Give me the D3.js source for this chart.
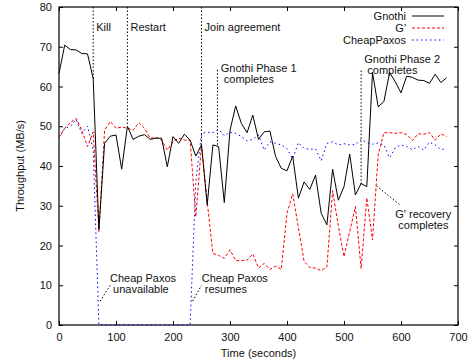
<!DOCTYPE html>
<html>
<head>
<meta charset="utf-8">
<script src="https://cdn.jsdelivr.net/npm/d3@7"></script>
<style>
  body { margin: 0; background: #fff; }
  svg { display: block; font-family: "Liberation Sans", Arial, sans-serif; font-size: 11px; }
  .lbl { white-space: pre; fill: #111; }
</style>
</head>
<body>
<svg id="chart" width="472" height="364"></svg>
<script>
// sample times (seconds)
const times = [0, 10, 20, 30, 40, 50, 60, 70, 80, 90,
  100, 110, 120, 130, 140, 150, 160, 170, 180, 190,
  200, 210, 220, 230, 240, 250, 260, 270, 280, 290,
  300, 310, 320, 330, 340, 350, 360, 370, 380, 390,
  400, 410, 420, 430, 440, 450, 460, 470, 480, 490,
  500, 510, 520, 530, 540, 550, 560, 570, 580, 590,
  600, 610, 620, 630, 640, 650, 660, 670, 680]

const gnothi = [63.3, 70.4, 69.3, 69.2, 68.3, 68.2, 62, 24, 45.7, 47.5,
  47.8, 39.2, 50, 46.7, 47.5, 47.9, 46.7, 47, 47, 39.8,
  47.4, 45.7, 48, 46.5, 42.5, 45.3, 30.2, 45.3, 44.9, 30.8,
  49, 55.1, 50.7, 48.4, 52.8, 46.7, 48.6, 48.8, 42.4, 39.4,
  38.8, 42.5, 31.9, 36, 34.1, 37.7, 28.1, 25.2, 39.2, 31.4,
  34.8, 43, 32.7, 35.6, 34.8, 63.5, 54.9, 56.2, 63.5, 61.2,
  58.4, 62.6, 62.3, 61.6, 61.5, 60.8, 63.1, 61, 62.2]

const gPrime = [47.2, 49.5, 50.9, 52, 49, 44.9, 48.6, 23.5, 49, 51.2,
  49.5, 49.8, 49.5, 49, 50.9, 49.5, 47, 47.2, 46.5, 44,
  46.1, 47, 46.5, 46.5, 27.2, 45.3, 31, 18, 17.5, 16.8,
  18.9, 16.2, 16.2, 16.3, 17.9, 14.3, 15.5, 14, 14.8, 14,
  28.1, 33, 24.5, 16, 14.5, 14.3, 13.7, 14.6, 33.8, 25,
  17.2, 23.5, 29.8, 14.2, 32, 21.4, 42.8, 48.4, 48.4, 48.2,
  48.4, 47.9, 46.4, 48.1, 48, 48.4, 46.5, 48.1, 47.4]

const cheapPaxos = [47, 49.5, 50, 51.7, 48.2, 50, 44, 0, 0, 0,
  0, 0, 0, 0, 0, 0, 0, 0, 0, 0,
  0, 0, 0, 0, 36, 48.2, 48.5, 48.4, 49.2, 47.6,
  48.5, 48.2, 47.4, 46.3, 46.7, 47.8, 44, 46.1, 45.7, 45.3,
  44.4, 41.8, 45.9, 44.4, 44.2, 44.3, 41.3, 45.7, 46.1, 45.3,
  45.6, 45.3, 45.4, 46.7, 45.9, 45.5, 45.8, 45.3, 42.1, 44.6,
  45.3, 44.9, 44.1, 44.9, 44, 46, 45.3, 44.1, 44.4]

const xTicks = [0, 100, 200, 300, 400, 500, 600, 700]
const yTicks = [0, 10, 20, 30, 40, 50, 60, 70, 80]

// vertical event markers: [time, from value, to value]
const eventLines = [[60, 80, 62], [120, 80, 50], [250, 80, 45.3], [278, 64.2, 45], [530, 64, 35]]
// short pointer lines
const pointers = [[[72, 6], [90, 10]], [[234.5, 6], [250, 10]], [[557, 35], [600, 30]]]
// annotation text: anchor time, value, lines
const notes = [
  { t: 60, v: 74, lines: [' Kill'] },
  { t: 120, v: 74, lines: [' Restart'] },
  { t: 250, v: 74, lines: [' Join agreement'] },
  { t: 283.7, v: 63.6, lines: ['Gnothi Phase 1', ' completes'] },
  { t: 535.6, v: 65.8, lines: ['Gnothi Phase 2', ' completes'] },
  { t: 89.5, v: 10.9, lines: ['Cheap Paxos', ' unavailable'] },
  { t: 250.4, v: 10.9, lines: ['Cheap Paxos', ' resumes'] },
  { t: 590, v: 26.8, lines: ["G' recovery", ' completes'] }
]

const series = [
  { name: 'Gnothi', values: gnothi, color: '#000', dash: null },
  { name: "G'", values: gPrime, color: '#f00', dash: '3,2' },
  { name: 'CheapPaxos', values: cheapPaxos, color: '#00f', dash: '1.5,3' }
]

const svg = d3.select('#chart')
const x = d3.scaleLinear().domain([0, 700]).range([59, 458])
const y = d3.scaleLinear().domain([0, 80]).range([325, 7])

// axes, ticks pointing inwards on all four sides
svg.append('g')
  .attr('transform', `translate(0,${y(0)})`)
  .call(d3.axisBottom(x).tickValues(xTicks).tickSizeInner(-4).tickSizeOuter(0).tickPadding(8))
svg.append('g')
  .attr('transform', `translate(${x(0)},0)`)
  .call(d3.axisLeft(y).tickValues(yTicks).tickSizeInner(-4).tickSizeOuter(0).tickPadding(7))
svg.append('g')
  .attr('transform', `translate(0,${y(80)})`)
  .call(d3.axisTop(x).tickValues(xTicks).tickSizeInner(-4).tickSizeOuter(0).tickFormat(''))
svg.append('g')
  .attr('transform', `translate(${x(700)},0)`)
  .call(d3.axisRight(y).tickValues(yTicks).tickSizeInner(-4).tickSizeOuter(0).tickFormat(''))

svg.selectAll('.domain').remove()
svg.selectAll('.tick line').attr('stroke', '#000')
svg.selectAll('.tick text').attr('fill', '#111').attr('font-size', 11)
  .attr('font-family', '"Liberation Sans", Arial, sans-serif')

svg.append('rect')
  .attr('x', x(0)).attr('y', y(80))
  .attr('width', x(700) - x(0)).attr('height', y(0) - y(80))
  .attr('fill', 'none').attr('stroke', '#000').attr('stroke-width', 1.2)

// axis titles
svg.append('text')
  .attr('transform', `translate(20,${(y(0) + y(80)) / 2}) rotate(-90)`)
  .attr('text-anchor', 'middle').attr('dy', '0.35em').attr('fill', '#111')
  .text('Throughput (MB/s)')
svg.append('text')
  .attr('x', (x(0) + x(700)) / 2).attr('y', 357)
  .attr('text-anchor', 'middle').attr('fill', '#111')
  .text('Time (seconds)')

// event markers
svg.append('g').selectAll('line')
  .data(eventLines)
  .enter().append('line')
  .attr('x1', d => x(d[0])).attr('x2', d => x(d[0]))
  .attr('y1', d => y(d[1])).attr('y2', d => y(d[2]))
  .attr('stroke', '#000').attr('stroke-width', 1).attr('stroke-dasharray', '1.5,2')

svg.append('g').selectAll('line')
  .data(pointers)
  .enter().append('line')
  .attr('x1', d => x(d[0][0])).attr('y1', d => y(d[0][1]))
  .attr('x2', d => x(d[1][0])).attr('y2', d => y(d[1][1]))
  .attr('stroke', '#000').attr('stroke-width', 1).attr('stroke-dasharray', '1.5,2')

// data lines
const line = d3.line().x((d, i) => x(times[i])).y(d => y(d))
series.slice().reverse().forEach(s => {
  svg.append('path')
    .datum(s.values)
    .attr('d', line)
    .attr('fill', 'none')
    .attr('stroke', s.color)
    .attr('stroke-width', 1)
    .attr('stroke-dasharray', s.dash)
})

// annotations
notes.forEach(n => {
  n.lines.forEach((txt, i) => {
    svg.append('text')
      .attr('class', 'lbl')
      .attr('x', x(n.t)).attr('y', y(n.v) + i * 11)
      .text(txt)
  })
})

// legend
const legend = svg.append('g')
series.forEach((s, i) => {
  const cy = 16 + i * 12
  legend.append('text')
    .attr('class', 'lbl')
    .attr('x', 406).attr('y', cy).attr('dy', '0.35em')
    .attr('text-anchor', 'end')
    .text(s.name)
  legend.append('line')
    .attr('x1', 412).attr('x2', 444).attr('y1', cy).attr('y2', cy)
    .attr('stroke', s.color).attr('stroke-width', 1)
    .attr('stroke-dasharray', s.dash)
})
</script>
</body>
</html>
